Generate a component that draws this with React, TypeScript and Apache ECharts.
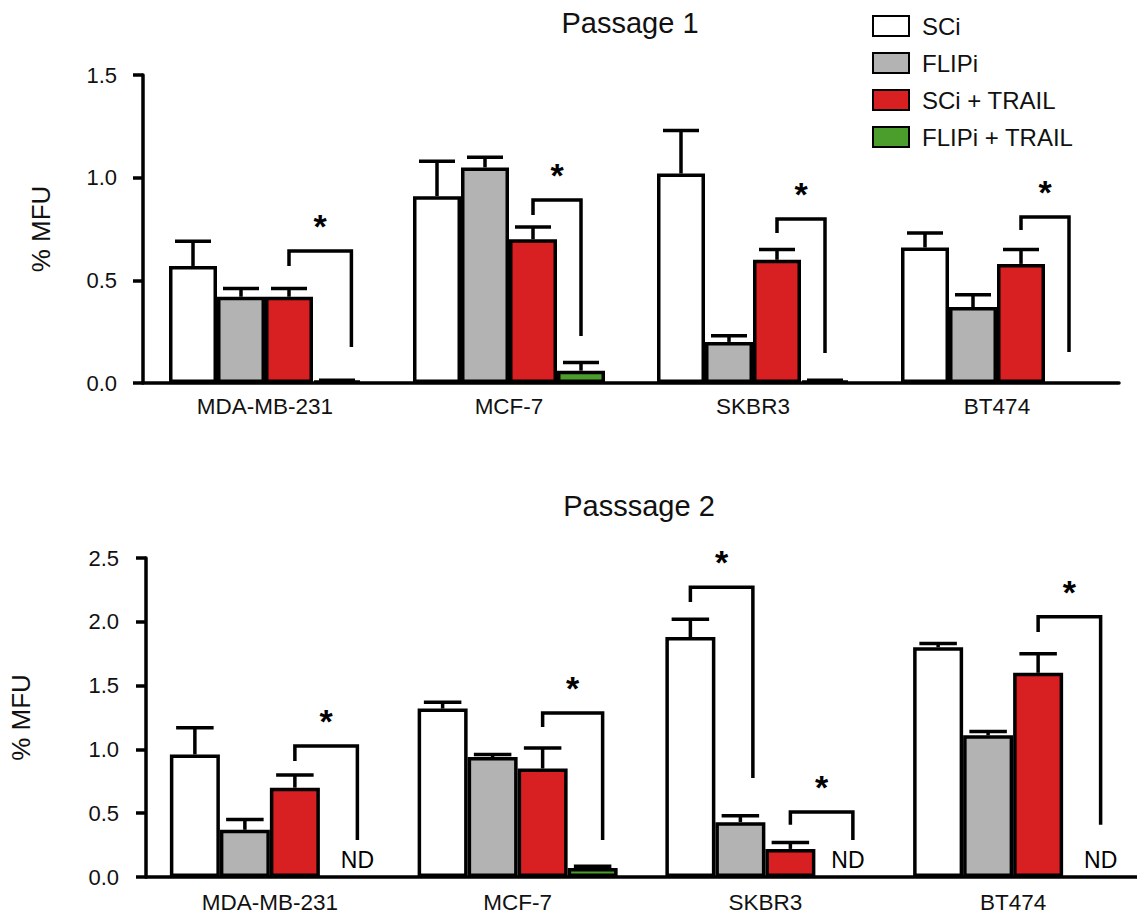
import React, { useEffect, useRef } from "react";
import * as echarts from "echarts";

const categories = ["MDA-MB-231", "MCF-7", "SKBR3", "BT474"];
const seriesNames = ["SCi", "FLIPi", "SCi + TRAIL", "FLIPi + TRAIL"];
const seriesColors = ["#ffffff", "#b3b3b3", "#d81f22", "#4c9e2c"];
const yTicks1 = [0, 0.5, 1.0, 1.5];
const yTicks2 = [0, 0.5, 1.0, 1.5, 2.0, 2.5];

// Passage 1 means and (upper) error bars
const p1SCi = [0.57, 0.91, 1.02, 0.66];
const p1SCiErr = [0.12, 0.17, 0.21, 0.07];
const p1FLIPi = [0.42, 1.05, 0.2, 0.37];
const p1FLIPiErr = [0.04, 0.05, 0.03, 0.06];
const p1SCiTRAIL = [0.42, 0.7, 0.6, 0.58];
const p1SCiTRAILErr = [0.04, 0.06, 0.05, 0.07];
const p1FLIPiTRAIL = [0.01, 0.06, 0.01, null];
const p1FLIPiTRAILErr = [0.004, 0.04, 0.004, null];

// Passage 2
const p2SCi = [0.96, 1.32, 1.88, 1.8];
const p2SCiErr = [0.21, 0.05, 0.14, 0.03];
const p2FLIPi = [0.37, 0.94, 0.43, 1.11];
const p2FLIPiErr = [0.08, 0.02, 0.05, 0.03];
const p2SCiTRAIL = [0.7, 0.85, 0.22, 1.6];
const p2SCiTRAILErr = [0.1, 0.16, 0.05, 0.15];
const p2FLIPiTRAIL = [null, 0.07, null, null];
const p2FLIPiTRAILErr = [null, 0.015, null, null];

// significance brackets: [category, leftSlot, rightSlot, topValue, leftBottom, rightBottom]
const p1Brackets = [
  [0, 2, 3.3, 0.643, 0.57, 0.175],
  [1, 2, 3, 0.891, 0.818, 0.229],
  [2, 2, 3, 0.799, 0.73, 0.146],
  [3, 2, 3, 0.808, 0.745, 0.151],
];
const p2Brackets = [
  [0, 2, 3.25, 1.027, 0.91, 0.29],
  [1, 2, 3.2, 1.285, 1.175, 0.29],
  [2, 0, 1.25, 2.27, 2.155, 0.776],
  [2, 2, 3.25, 0.51, 0.41, 0.29],
  [3, 2, 3.25, 2.04, 1.92, 0.41],
];
// "ND" (not detected) marks: [category, slot]
const p2ND = [
  [0, 3.25],
  [2, 3.15],
  [3, 3.25],
];

const FONT = "'Liberation Sans', Arial, Helvetica, sans-serif";
const TXT = "#111";
const LW = 3.5;

export default function App() {
  const ref = useRef<HTMLDivElement>(null);
  useEffect(() => {
    if (!ref.current) return;
    const chart = echarts.init(ref.current, null, { renderer: "svg" });

    const p1Vals = [p1SCi, p1FLIPi, p1SCiTRAIL, p1FLIPiTRAIL];
    const p1Errs = [p1SCiErr, p1FLIPiErr, p1SCiTRAILErr, p1FLIPiTRAILErr];
    const p2Vals = [p2SCi, p2FLIPi, p2SCiTRAIL, p2FLIPiTRAIL];
    const p2Errs = [p2SCiErr, p2FLIPiErr, p2SCiTRAILErr, p2FLIPiTRAILErr];
    const bw = [48, 50];

    const series: any[] = [];
    [p1Vals, p2Vals].forEach((vals, g) => {
      vals.forEach((arr, k) => {
        series.push({
          type: "bar",
          name: seriesNames[k],
          xAxisIndex: g,
          yAxisIndex: g,
          data: arr,
          barWidth: bw[g],
          barGap: "0%",
          itemStyle: { color: seriesColors[k], borderColor: "#000", borderWidth: LW },
        });
      });
    });

    const errRender = (slot: number, w: number) => (params: any, api: any) => {
      const cat = api.value(0);
      const v = api.value(1);
      const e = api.value(2);
      const base = api.coord([cat, v]);
      const top = api.coord([cat, v + e]);
      const x = base[0] + (slot - 1.5) * w;
      const cw = w * 0.75;
      return {
        type: "group",
        children: [
          { type: "line", shape: { x1: x, y1: base[1], x2: x, y2: top[1] }, style: { stroke: "#000", lineWidth: LW } },
          { type: "line", shape: { x1: x - cw / 2, y1: top[1], x2: x + cw / 2, y2: top[1] }, style: { stroke: "#000", lineWidth: LW } },
        ],
      };
    };

    [p1Vals, p2Vals].forEach((vals, g) => {
      const errs = g === 0 ? p1Errs : p2Errs;
      vals.forEach((arr, k) => {
        const data: any[] = [];
        arr.forEach((v, i) => {
          if (v != null && errs[k][i] != null) data.push([i, v, errs[k][i]]);
        });
        series.push({
          type: "custom",
          name: "err" + g + k,
          xAxisIndex: g,
          yAxisIndex: g,
          z: 5,
          clip: false,
          silent: true,
          renderItem: errRender(k, bw[g]),
          data,
        });
      });
    });

    const bracketRender = (w: number) => (params: any, api: any) => {
      const cat = api.value(0);
      const ls = api.value(1);
      const rs = api.value(2);
      const topV = api.value(3);
      const lb = api.value(4);
      const rb = api.value(5);
      const c = api.coord([cat, 0])[0];
      const xl = c + (ls - 1.5) * w;
      const xr = c + (rs - 1.5) * w;
      const yt = api.coord([cat, topV])[1];
      const yl = api.coord([cat, lb])[1];
      const yr = api.coord([cat, rb])[1];
      return {
        type: "group",
        children: [
          {
            type: "polyline",
            shape: { points: [[xl, yl], [xl, yt], [xr, yt], [xr, yr]] },
            style: { stroke: "#000", lineWidth: LW, fill: "none" },
          },
          {
            type: "text",
            x: (xl + xr) / 2,
            y: yt - 25,
            style: {
              text: "*",
              font: "bold 34px " + FONT,
              fill: "#000",
              textAlign: "center",
              align: "center",
              textVerticalAlign: "middle",
              verticalAlign: "middle",
            },
          },
        ],
      };
    };

    series.push({
      type: "custom",
      name: "brackets1",
      xAxisIndex: 0,
      yAxisIndex: 0,
      z: 6,
      clip: false,
      silent: true,
      renderItem: bracketRender(bw[0]),
      data: p1Brackets,
    });
    series.push({
      type: "custom",
      name: "brackets2",
      xAxisIndex: 1,
      yAxisIndex: 1,
      z: 6,
      clip: false,
      silent: true,
      renderItem: bracketRender(bw[1]),
      data: p2Brackets,
    });
    series.push({
      type: "custom",
      name: "nd2",
      xAxisIndex: 1,
      yAxisIndex: 1,
      z: 6,
      clip: false,
      silent: true,
      renderItem: (params: any, api: any) => {
        const cat = api.value(0);
        const slot = api.value(1);
        const p = api.coord([cat, 0]);
        return {
          type: "text",
          x: p[0] + (slot - 1.5) * bw[1],
          y: p[1] - 17,
          style: {
            text: "ND",
            font: "23px " + FONT,
            fill: "#000",
            textAlign: "center",
            align: "center",
            textVerticalAlign: "middle",
            verticalAlign: "middle",
          },
        };
      },
      data: p2ND,
    });

    const mkX = (g: number, margin: number) => ({
      type: "category",
      gridIndex: g,
      data: categories,
      axisLine: { lineStyle: { color: "#000", width: LW } },
      axisTick: { alignWithLabel: true, length: 12, lineStyle: { color: "#000", width: LW } },
      axisLabel: { margin, fontSize: 22.5, color: TXT, fontFamily: FONT },
    });
    const mkY = (g: number, ticks: number[], gap: number, margin: number) => ({
      type: "value",
      gridIndex: g,
      min: ticks[0],
      max: ticks[ticks.length - 1],
      interval: ticks[1] - ticks[0],
      name: "% MFU",
      nameLocation: "middle",
      nameGap: gap,
      nameTextStyle: { fontSize: 26, color: TXT, fontFamily: FONT },
      axisLine: { show: true, lineStyle: { color: "#000", width: LW } },
      axisTick: { show: true, length: 10, lineStyle: { color: "#000", width: LW } },
      axisLabel: { margin, fontSize: 22, color: TXT, fontFamily: FONT, formatter: (v: number) => v.toFixed(1) },
      splitLine: { show: false },
    });

    chart.setOption({
      animation: false,
      backgroundColor: "#fff",
      title: [
        {
          text: "Passage 1",
          left: 625,
          top: 3,
          textAlign: "center",
          textStyle: { fontSize: 29, fontWeight: "normal", color: TXT, fontFamily: FONT },
        },
        {
          text: "Passsage 2",
          left: 634,
          top: 486,
          textAlign: "center",
          textStyle: { fontSize: 29, fontWeight: "normal", color: TXT, fontFamily: FONT },
        },
      ],
      legend: {
        data: seriesNames,
        orient: "vertical",
        left: 867,
        top: 9,
        itemWidth: 36,
        itemHeight: 20,
        itemGap: 13,
        icon: "rect",
        selectedMode: false,
        textStyle: { fontSize: 24, color: TXT, fontFamily: FONT, padding: [0, 0, 0, 8] },
      },
      grid: [
        { left: 143, top: 75, width: 976, height: 308 },
        { left: 135, top: 558, width: 1004, height: 319 },
      ],
      xAxis: [mkX(0, 12), mkX(1, 14)],
      yAxis: [mkY(0, yTicks1, 89, 26), mkY(1, yTicks2, 112, 27)],
      series,
    });
    return () => chart.dispose();
  }, []);
  return <div ref={ref} style={{ position: "fixed", left: 0, top: 0, width: 1137, height: 917 }} />;
}
